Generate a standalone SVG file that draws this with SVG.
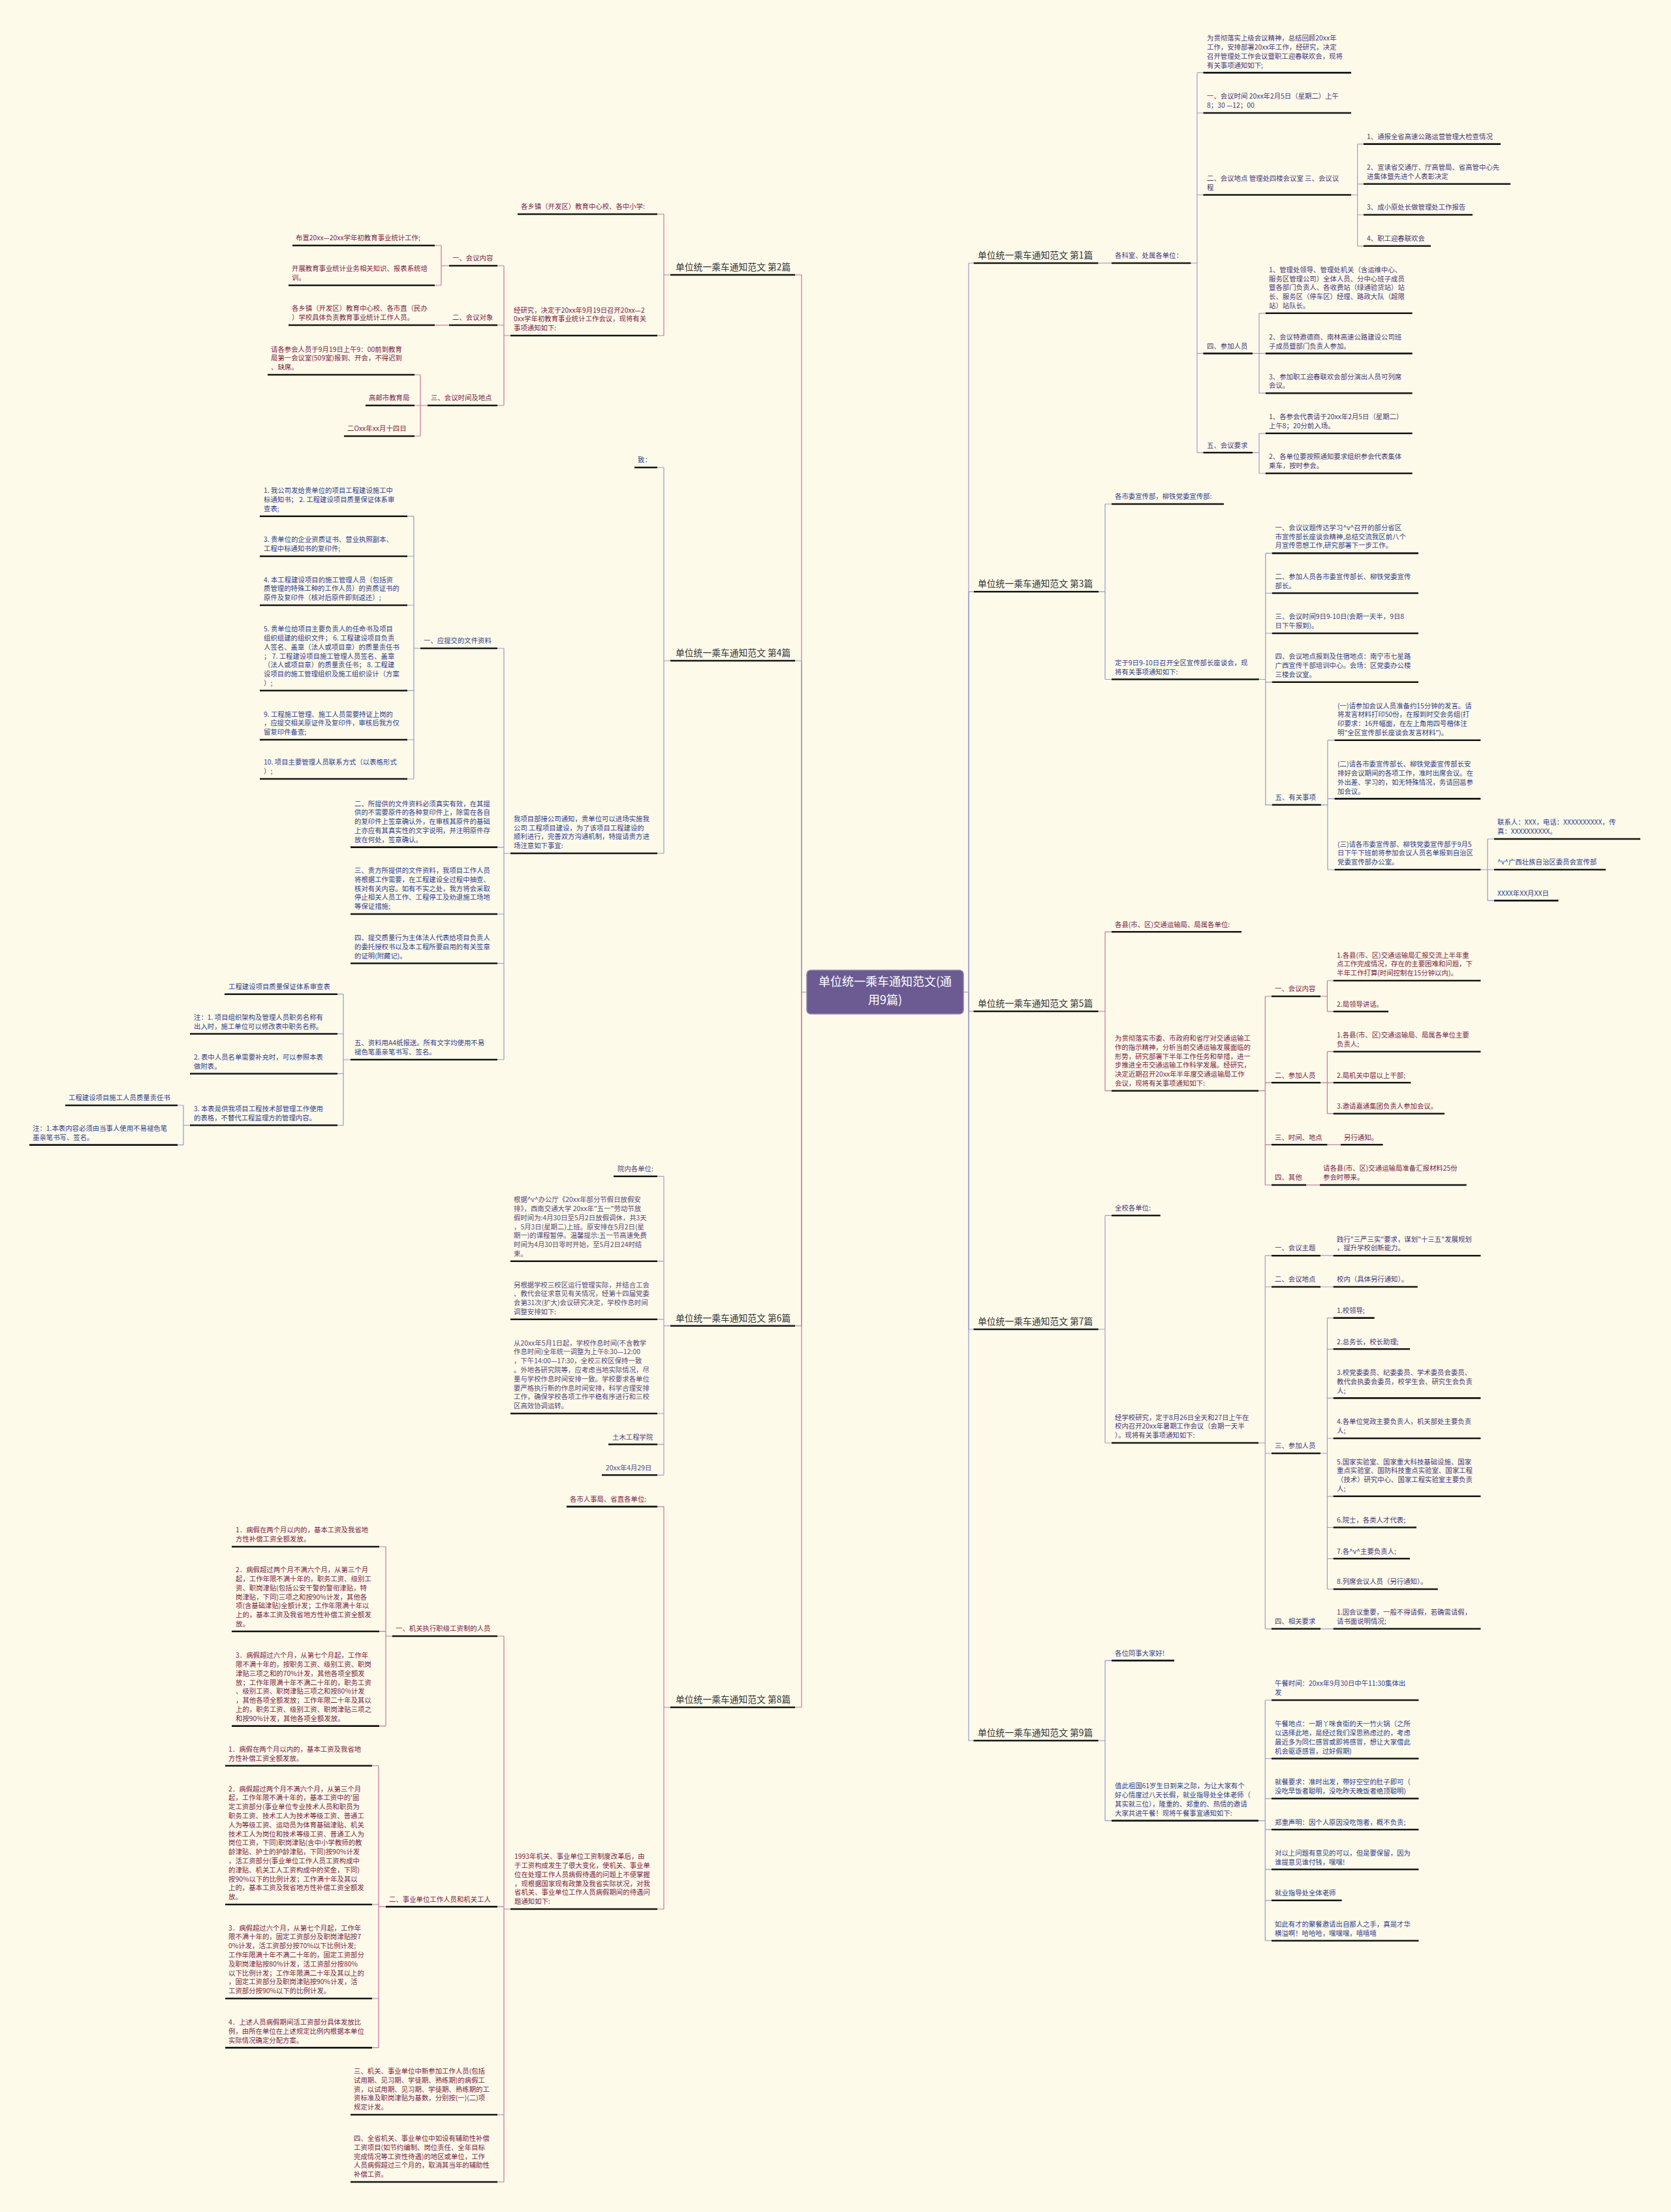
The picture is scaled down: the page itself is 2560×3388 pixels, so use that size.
<svg xmlns="http://www.w3.org/2000/svg" width="2560" height="3388" viewBox="0 0 2560 3388">
<style>
text{font-family:"Noto Sans CJK SC","Noto Sans",sans-serif;}
.t{font-size:10.4px;}
.tt{font-size:13.8px;fill:#333;}
.u{stroke:#161616;stroke-width:2.6;}
.m{fill:#7a2347;}
.b{fill:#2d3f8f;}
.p{fill:#55487f;}
.v{fill:#45387c;}
.lm{stroke:#c8759c;fill:none;stroke-width:1.2;}
.lb{stroke:#8d9bd0;fill:none;stroke-width:1.2;}
.lp{stroke:#a898c6;fill:none;stroke-width:1.2;}
</style>
<rect width="2560" height="3388" fill="#fefaea"/>
<g id="connectors">
<path class="lm" d="M1236,1519.5 H1228 V421 H1218"/>
<path class="lb" d="M1236,1519.5 H1228 V1012 H1218"/>
<path class="lp" d="M1236,1519.5 H1228 V2030.7 H1218"/>
<path class="lm" d="M1236,1519.5 H1228 V2615 H1218"/>
<path class="lp" d="M1476,1519.5 H1484 V403 H1491.6"/>
<path class="lb" d="M1476,1519.5 H1484 V906.3 H1492"/>
<path class="lm" d="M1476,1519.5 H1484 V1549 H1491.5"/>
<path class="lp" d="M1476,1519.5 H1484 V2036 H1491.5"/>
<path class="lb" d="M1476,1519.5 H1484 V2666 H1491.5"/>
<path class="lm" d="M1027,421 H1017 M1017,328 V514 M1017,328 H1007 M1017,514 H1007"/>
<path class="lm" d="M782,514 H772 M772,407 V621 M772,407 H762 M772,498 H762 M772,621 H762"/>
<path class="lm" d="M688,407 H676 M676,376 V437 M676,376 H666 M676,437 H666"/>
<path class="lm" d="M688,498 H666"/>
<path class="lm" d="M655,621 H644 M644,574 V668 M644,574 H635 M644,621 H635 M644,668 H635"/>
<path class="lb" d="M1027,1012 H1017 M1017,716 V1307 M1017,716 H1007 M1017,1307 H1007"/>
<path class="lb" d="M782,1307 H772 M772,993 V1623 M772,993 H762 M772,1297.6 H762 M772,1400 H762 M772,1475.5 H762 M772,1623 H762"/>
<path class="lb" d="M644,993 H634 M634,790.7 V1193 M634,790.7 H624 M634,852 H624 M634,927 H624 M634,1057.7 H624 M634,1133 H624 M634,1193 H624"/>
<path class="lb" d="M537,1623 H526 M526,1522.7 V1723.5 M526,1522.7 H517 M526,1583.5 H517 M526,1644.5 H517 M526,1723.5 H517"/>
<path class="lb" d="M291,1723.5 H281 M281,1693 V1753.6 M281,1693 H272 M281,1753.6 H272"/>
<path class="lp" d="M1027,2030.7 H1017 M1017,1801.7 V2259.3 M1017,1801.7 H1007 M1017,1931.7 H1007 M1017,2020.7 H1007 M1017,2165 H1007 M1017,2212.3 H1007 M1017,2259.3 H1007"/>
<path class="lm" d="M1027,2615 H1017 M1017,2307.6 V2924 M1017,2307.6 H1007 M1017,2924 H1007"/>
<path class="lm" d="M782,2924 H772 M772,2506 V3342 M772,2506 H762 M772,2920.4 H762 M772,3239 H762 M772,3342 H762"/>
<path class="lm" d="M601,2506 H591 M591,2369 V2643.6 M591,2369 H581 M591,2498.7 H581 M591,2643.6 H581"/>
<path class="lm" d="M591,2920.4 H580 M580,2704.5 V3136.4 M580,2704.5 H570 M580,2917 H570 M580,3061 H570 M580,3136.4 H570"/>
<path class="lp" d="M1682.4,403 H1703"/>
<path class="lp" d="M1824.4,403 H1834 M1834,111.4 V693.3 M1834,111.4 H1843.4 M1834,173 H1843.4 M1834,298.5 H1843.4 M1834,541.4 H1843.4 M1834,693.3 H1843.4"/>
<path class="lp" d="M2070,298.5 H2079.7 M2079.7,220.6 V376.8 M2079.7,220.6 H2089 M2079.7,281.8 H2089 M2079.7,329 H2089 M2079.7,376.8 H2089"/>
<path class="lp" d="M1919,541.4 H1929 M1929,479.8 V602.2 M1929,479.8 H1938.8 M1929,541.4 H1938.8 M1929,602.2 H1938.8"/>
<path class="lp" d="M1919,693.3 H1929 M1929,663.8 V725 M1929,663.8 H1938.8 M1929,725 H1938.8"/>
<path class="lb" d="M1683,906.3 H1693 M1693,772 V1040.5 M1693,772 H1703 M1693,1040.5 H1703"/>
<path class="lb" d="M1928.7,1040.5 H1938.8 M1938.8,847.4 V1232.8 M1938.8,847.4 H1948.8 M1938.8,908.5 H1948.8 M1938.8,970 H1948.8 M1938.8,1044.8 H1948.8 M1938.8,1232.8 H1948.8"/>
<path class="lb" d="M2023.8,1232.8 H2034 M2034,1133.7 V1332 M2034,1133.7 H2044.6 M2034,1223.4 H2044.6 M2034,1332 H2044.6"/>
<path class="lb" d="M2268.3,1332 H2279 M2279,1285 V1379.4 M2279,1285 H2289 M2279,1332 H2289 M2279,1379.4 H2289"/>
<path class="lm" d="M1682.7,1549 H1693 M1693,1427.3 V1670.7 M1693,1427.3 H1703 M1693,1670.7 H1703"/>
<path class="lm" d="M1928,1670.7 H1938.3 M1938.3,1526 V1815 M1938.3,1526 H1948 M1938.3,1658.3 H1948 M1938.3,1753.3 H1948 M1938.3,1815 H1948"/>
<path class="lm" d="M2023,1526 H2033.4 M2033.4,1502 V1549.3 M2033.4,1502 H2042.7 M2033.4,1549.3 H2042.7"/>
<path class="lm" d="M2023,1658.3 H2033.4 M2033.4,1610.7 V1705.7 M2033.4,1610.7 H2042.7 M2033.4,1658.3 H2042.7 M2033.4,1705.7 H2042.7"/>
<path class="lm" d="M2033.4,1753.3 H2054"/>
<path class="lm" d="M2001,1815 H2022"/>
<path class="lp" d="M1682.7,2036 H1693 M1693,1861.7 V2210 M1693,1861.7 H1703 M1693,2210 H1703"/>
<path class="lp" d="M1928,2210 H1938.3 M1938.3,1923.2 V2494.8 M1938.3,1923.2 H1948 M1938.3,1971 H1948 M1938.3,2226 H1948 M1938.3,2494.8 H1948"/>
<path class="lp" d="M2023,1923.2 H2042.7 M2023,1971 H2042.7 M2023,2494.8 H2042.7"/>
<path class="lp" d="M2023,2226 H2033.4 M2033.4,2018.6 V2434 M2033.4,2018.6 H2042.7 M2033.4,2066.3 H2042.7 M2033.4,2141.4 H2042.7 M2033.4,2203 H2042.7 M2033.4,2291.8 H2042.7 M2033.4,2339.5 H2042.7 M2033.4,2387.3 H2042.7 M2033.4,2434 H2042.7"/>
<path class="lb" d="M1682.7,2666 H1693 M1693,2543.4 V2788.6 M1693,2543.4 H1703 M1693,2788.6 H1703"/>
<path class="lb" d="M1928,2788.6 H1938.3 M1938.3,2604 V2972.5 M1938.3,2604 H1948 M1938.3,2693.5 H1948 M1938.3,2754.8 H1948 M1938.3,2802.3 H1948 M1938.3,2863.3 H1948 M1938.3,2910.8 H1948 M1938.3,2972.5 H1948"/>
</g>
<g id="center">
<rect x="1236" y="1486" width="240" height="67" rx="6" fill="#6b5b92" stroke="#8f82b3" stroke-width="1.5"/>
<text x="1356" y="1510" font-size="18" fill="#fff" text-anchor="middle">单位统一乘车通知范文(通</text>
<text x="1356" y="1538" font-size="18" fill="#fff" text-anchor="middle">用9篇)</text>
</g>
<!-- 第2篇 -->
<g id="t2"><text class="tt" x="1035" y="414">单位统一乘车通知范文 第2篇</text><line class="u" x1="1027" y1="421" x2="1218" y2="421"/></g>
<g id="n2a"><text class="t m" x="798" y="320.2">各乡镇（开发区）教育中心校、各中小学:</text><line class="u" x1="793" y1="328" x2="1007" y2="328"/></g>
<g id="n2b"><text class="t m"><tspan x="787" y="478.6">经研究，决定于20xx年9月19日召开20xx—2</tspan><tspan x="787" y="492.4">0xx学年初教育事业统计工作会议，现将有关</tspan><tspan x="787" y="506.2">事项通知如下:</tspan></text><line class="u" x1="782" y1="514" x2="1007" y2="514"/></g>
<g id="n2b1"><text class="t m" x="693" y="399.2">一、会议内容</text><line class="u" x1="688" y1="407" x2="762" y2="407"/></g>
<g id="n2b2"><text class="t m" x="693" y="490.2">二、会议对象</text><line class="u" x1="688" y1="498" x2="762" y2="498"/></g>
<g id="n2b3"><text class="t m" x="660" y="613.2">三、会议时间及地点</text><line class="u" x1="655" y1="621" x2="762" y2="621"/></g>
<g id="n2b1a"><text class="t m" x="453" y="368.2">布置20xx—20xx学年初教育事业统计工作;</text><line class="u" x1="448" y1="376" x2="666" y2="376"/></g>
<g id="n2b1b"><text class="t m"><tspan x="447" y="415.4">开展教育事业统计业务相关知识、报表系统培</tspan><tspan x="447" y="429.2">训。</tspan></text><line class="u" x1="442" y1="437" x2="666" y2="437"/></g>
<g id="n2b2a"><text class="t m"><tspan x="447" y="476.4">各乡镇（开发区）教育中心校、各市直（民办</tspan><tspan x="447" y="490.2">）学校具体负责教育事业统计工作人员。</tspan></text><line class="u" x1="442" y1="498" x2="666" y2="498"/></g>
<g id="n2b3a"><text class="t m"><tspan x="415" y="538.6">请各参会人员于9月19日上午9：00前到教育</tspan><tspan x="415" y="552.4">局第一会议室(509室)报到、开会，不得迟到</tspan><tspan x="415" y="566.2">、缺席。</tspan></text><line class="u" x1="410" y1="574" x2="635" y2="574"/></g>
<g id="n2b3b"><text class="t m" x="565" y="613.2">高邮市教育局</text><line class="u" x1="560" y1="621" x2="635" y2="621"/></g>
<g id="n2b3c"><text class="t m" x="532" y="660.2">二Oxx年xx月十四日</text><line class="u" x1="527" y1="668" x2="635" y2="668"/></g>
<!-- 第4篇 -->
<g id="t4"><text class="tt" x="1035" y="1005">单位统一乘车通知范文 第4篇</text><line class="u" x1="1027" y1="1012" x2="1218" y2="1012"/></g>
<g id="n4a"><text class="t b" x="977" y="708.2">致：</text><line class="u" x1="972" y1="716" x2="1007" y2="716"/></g>
<g id="n4b"><text class="t b"><tspan x="787" y="1257.8">我项目部接公司通知，贵单位可以进场实施我</tspan><tspan x="787" y="1271.6">公司 工程项目建设，为了该项目工程建设的</tspan><tspan x="787" y="1285.4">顺利进行，完善双方沟通机制，特提请贵方进</tspan><tspan x="787" y="1299.2">场注意如下事宜:</tspan></text><line class="u" x1="782" y1="1307" x2="1007" y2="1307"/></g>
<g id="n4b1"><text class="t b" x="649" y="985.2">一、应提交的文件资料</text><line class="u" x1="644" y1="993" x2="762" y2="993"/></g>
<g id="n4b2"><text class="t b"><tspan x="543" y="1234.6">二、所提供的文件资料必须真实有效，在其提</tspan><tspan x="543" y="1248.4">供的不需要原件的各种复印件上，除需在各自</tspan><tspan x="543" y="1262.2">的复印件上签章确认外，在审核其原件的基础</tspan><tspan x="543" y="1276">上亦应有其真实性的文字说明，并注明原件存</tspan><tspan x="543" y="1289.8">放在何处，签章确认。</tspan></text><line class="u" x1="537" y1="1297.6" x2="762" y2="1297.6"/></g>
<g id="n4b3"><text class="t b"><tspan x="543" y="1337">三、贵方所提供的文件资料，我项目工作人员</tspan><tspan x="543" y="1350.8">将根据工作需要，在工程建设全过程中抽查、</tspan><tspan x="543" y="1364.6">核对有关内容。如有不实之处，我方将会采取</tspan><tspan x="543" y="1378.4">停止相关人员工作、工程停工及劝退施工场地</tspan><tspan x="543" y="1392.2">等保证措施;</tspan></text><line class="u" x1="537" y1="1400" x2="762" y2="1400"/></g>
<g id="n4b4"><text class="t b"><tspan x="543" y="1440.1">四、提交质量行为主体法人代表给项目负责人</tspan><tspan x="543" y="1453.9">的委托授权书以及本工程所要启用的有关签章</tspan><tspan x="543" y="1467.7">的证明(附藏记)。</tspan></text><line class="u" x1="537" y1="1475.5" x2="762" y2="1475.5"/></g>
<g id="n4b5"><text class="t b"><tspan x="543" y="1601.4">五、资料用A4纸报送。所有文字均使用不易</tspan><tspan x="543" y="1615.2">褪色笔墨亲笔书写、签名。</tspan></text><line class="u" x1="537" y1="1623" x2="762" y2="1623"/></g>
<g id="n4i1"><text class="t b"><tspan x="404" y="755.3">1. 我公司发给贵单位的项目工程建设施工中</tspan><tspan x="404" y="769.1">标通知书； 2. 工程建设项目质量保证体系审</tspan><tspan x="404" y="782.9">查表;</tspan></text><line class="u" x1="398" y1="790.7" x2="624" y2="790.7"/></g>
<g id="n4i2"><text class="t b"><tspan x="404" y="830.4">3. 贵单位的企业资质证书、营业执照副本、</tspan><tspan x="404" y="844.2">工程中标通知书的复印件;</tspan></text><line class="u" x1="398" y1="852" x2="624" y2="852"/></g>
<g id="n4i3"><text class="t b"><tspan x="404" y="891.6">4. 本工程建设项目的施工管理人员（包括资</tspan><tspan x="404" y="905.4">质管理的特殊工种的工作人员）的资质证书的</tspan><tspan x="404" y="919.2">原件及复印件（核对后原件即刻返还）;</tspan></text><line class="u" x1="398" y1="927" x2="624" y2="927"/></g>
<g id="n4i4"><text class="t b"><tspan x="404" y="967.1">5. 贵单位给项目主要负责人的任命书及项目</tspan><tspan x="404" y="980.9">组织组建的组织文件； 6. 工程建设项目负责</tspan><tspan x="404" y="994.7">人签名、盖章（法人或项目章）的质量责任书</tspan><tspan x="404" y="1008.5">； 7. 工程建设项目施工管理人员签名、盖章</tspan><tspan x="404" y="1022.3">（法人或项目章）的质量责任书； 8. 工程建</tspan><tspan x="404" y="1036.1">设项目的施工管理组织及施工组织设计（方案</tspan><tspan x="404" y="1049.9">）;</tspan></text><line class="u" x1="398" y1="1057.7" x2="624" y2="1057.7"/></g>
<g id="n4i5"><text class="t b"><tspan x="404" y="1097.6">9. 工程施工管理、施工人员需要持证上岗的</tspan><tspan x="404" y="1111.4">，应提交相关原证件及复印件，审核后我方仅</tspan><tspan x="404" y="1125.2">留复印件备查;</tspan></text><line class="u" x1="398" y1="1133" x2="624" y2="1133"/></g>
<g id="n4i6"><text class="t b"><tspan x="404" y="1171.4">10. 项目主要管理人员联系方式（以表格形式</tspan><tspan x="404" y="1185.2">）;</tspan></text><line class="u" x1="398" y1="1193" x2="624" y2="1193"/></g>
<g id="n4b5a"><text class="t b" x="350" y="1514.9">工程建设项目质量保证体系审查表</text><line class="u" x1="344" y1="1522.7" x2="517" y2="1522.7"/></g>
<g id="n4b5b"><text class="t b"><tspan x="297" y="1561.9">注：1. 项目组织架构及管理人员职务名称有</tspan><tspan x="297" y="1575.7">出入时，施工单位可以修改表中职务名称。</tspan></text><line class="u" x1="291" y1="1583.5" x2="517" y2="1583.5"/></g>
<g id="n4b5c"><text class="t b"><tspan x="297" y="1622.9">2. 表中人员名单需要补充时，可以参照本表</tspan><tspan x="297" y="1636.7">做附表。</tspan></text><line class="u" x1="291" y1="1644.5" x2="517" y2="1644.5"/></g>
<g id="n4b5d"><text class="t b"><tspan x="297" y="1701.9">3. 本表是供我项目工程技术部管理工作使用</tspan><tspan x="297" y="1715.7">的表格，不替代工程监理方的管理内容。</tspan></text><line class="u" x1="291" y1="1723.5" x2="517" y2="1723.5"/></g>
<g id="n4b5d1"><text class="t b" x="105" y="1685.2">工程建设项目施工人员质量责任书</text><line class="u" x1="100" y1="1693" x2="272" y2="1693"/></g>
<g id="n4b5d2"><text class="t b"><tspan x="50" y="1732">注：1.本表内容必须由当事人使用不易褪色笔</tspan><tspan x="50" y="1745.8">墨亲笔书写、签名。</tspan></text><line class="u" x1="45" y1="1753.6" x2="272" y2="1753.6"/></g>
<!-- 第6篇 -->
<g id="t6"><text class="tt" x="1035" y="2023.7">单位统一乘车通知范文 第6篇</text><line class="u" x1="1027" y1="2030.7" x2="1218" y2="2030.7"/></g>
<g id="n6a"><text class="t p" x="946" y="1793.9">院内各单位:</text><line class="u" x1="940" y1="1801.7" x2="1007" y2="1801.7"/></g>
<g id="n6b"><text class="t p"><tspan x="787" y="1841.1">根据^v^办公厅《20xx年部分节假日放假安</tspan><tspan x="787" y="1854.9">排》，西南交通大学 20xx年"五一"劳动节放</tspan><tspan x="787" y="1868.7">假时间为:4月30日至5月2日放假调休，共3天</tspan><tspan x="787" y="1882.5">，5月3日(星期二)上班。原安排在5月2日(星</tspan><tspan x="787" y="1896.3">期一)的课程暂停。温馨提示:五一节高速免费</tspan><tspan x="787" y="1910.1">时间为4月30日零时开始，至5月2日24时结</tspan><tspan x="787" y="1923.9">束。</tspan></text><line class="u" x1="782" y1="1931.7" x2="1007" y2="1931.7"/></g>
<g id="n6c"><text class="t p"><tspan x="787" y="1971.5">另根据学校三校区运行管理实际，并结合工会</tspan><tspan x="787" y="1985.3">、教代会征求意见有关情况，经第十四届党委</tspan><tspan x="787" y="1999.1">会第31次(扩大)会议研究决定，学校作息时间</tspan><tspan x="787" y="2012.9">调整安排如下:</tspan></text><line class="u" x1="782" y1="2020.7" x2="1007" y2="2020.7"/></g>
<g id="n6d"><text class="t p"><tspan x="787" y="2060.6">从20xx年5月1日起，学校作息时间(不含教学</tspan><tspan x="787" y="2074.4">作息时间)全年统一调整为上午8:30—12:00</tspan><tspan x="787" y="2088.2">，下午14:00—17:30，全校三校区保持一致</tspan><tspan x="787" y="2102">。外地各研究院等，应考虑当地实际情况，尽</tspan><tspan x="787" y="2115.8">量与学校作息时间安排一致。学校要求各单位</tspan><tspan x="787" y="2129.6">要严格执行新的作息时间安排，科学合理安排</tspan><tspan x="787" y="2143.4">工作，确保学校各项工作平稳有序进行和三校</tspan><tspan x="787" y="2157.2">区高效协调运转。</tspan></text><line class="u" x1="782" y1="2165" x2="1007" y2="2165"/></g>
<g id="n6e"><text class="t p" x="938" y="2204.5">土木工程学院</text><line class="u" x1="932" y1="2212.3" x2="1007" y2="2212.3"/></g>
<g id="n6f"><text class="t p" x="928" y="2251.5">20xx年4月29日</text><line class="u" x1="922" y1="2259.3" x2="1007" y2="2259.3"/></g>
<!-- 第8篇 -->
<g id="t8"><text class="tt" x="1035" y="2608">单位统一乘车通知范文 第8篇</text><line class="u" x1="1027" y1="2615" x2="1218" y2="2615"/></g>
<g id="n8a"><text class="t m" x="873" y="2299.8">各市人事局、省直各单位:</text><line class="u" x1="868" y1="2307.6" x2="1007" y2="2307.6"/></g>
<g id="n8b"><text class="t m"><tspan x="788" y="2847.2">1993年机关、事业单位工资制度改革后，由</tspan><tspan x="788" y="2861">于工资构成发生了很大变化，使机关、事业单</tspan><tspan x="788" y="2874.8">位在处理工作人员病假待遇的问题上不便掌握</tspan><tspan x="788" y="2888.6">，现根据国家现有政策及我省实际状况，对我</tspan><tspan x="788" y="2902.4">省机关、事业单位工作人员病假期间的待遇问</tspan><tspan x="788" y="2916.2">题通知如下:</tspan></text><line class="u" x1="782" y1="2924" x2="1007" y2="2924"/></g>
<g id="n8b1"><text class="t m" x="606" y="2498.2">一、机关执行职级工资制的人员</text><line class="u" x1="601" y1="2506" x2="762" y2="2506"/></g>
<g id="n8b2"><text class="t m" x="596" y="2912.6">二、事业单位工作人员和机关工人</text><line class="u" x1="591" y1="2920.4" x2="762" y2="2920.4"/></g>
<g id="n8b3"><text class="t m"><tspan x="542" y="3176">三、机关、事业单位中新参加工作人员(包括</tspan><tspan x="542" y="3189.8">试用期、见习期、学徒期、熟练期)的病假工</tspan><tspan x="542" y="3203.6">资，以试用期、见习期、学徒期、熟练期的工</tspan><tspan x="542" y="3217.4">资标准及职岗津贴为基数，分别按(一)(二)项</tspan><tspan x="542" y="3231.2">规定计发。</tspan></text><line class="u" x1="537" y1="3239" x2="762" y2="3239"/></g>
<g id="n8b4"><text class="t m"><tspan x="542" y="3279">四、全省机关、事业单位中如设有辅助性补偿</tspan><tspan x="542" y="3292.8">工资项目(如节约编制、岗位责任、全年目标</tspan><tspan x="542" y="3306.6">完成情况等工资性待遇)的地区或单位，工作</tspan><tspan x="542" y="3320.4">人员病假超过三个月的，取消其当年的辅助性</tspan><tspan x="542" y="3334.2">补偿工资。</tspan></text><line class="u" x1="537" y1="3342" x2="762" y2="3342"/></g>
<g id="n8b1a"><text class="t m"><tspan x="361" y="2347.4">1．病假在两个月以内的，基本工资及我省地</tspan><tspan x="361" y="2361.2">方性补偿工资全额发放。</tspan></text><line class="u" x1="355" y1="2369" x2="581" y2="2369"/></g>
<g id="n8b1b"><text class="t m"><tspan x="361" y="2408.1">2．病假超过两个月不满六个月，从第三个月</tspan><tspan x="361" y="2421.9">起，工作年限不满十年的，职务工资、级别工</tspan><tspan x="361" y="2435.7">资、职岗津贴(包括公安干警的警衔津贴，特</tspan><tspan x="361" y="2449.5">岗津贴，下同)三项之和按90%计发，其他各</tspan><tspan x="361" y="2463.3">项(含基础津贴)全额计发；工作年限满十年以</tspan><tspan x="361" y="2477.1">上的，基本工资及我省地方性补偿工资全额发</tspan><tspan x="361" y="2490.9">放。</tspan></text><line class="u" x1="355" y1="2498.7" x2="581" y2="2498.7"/></g>
<g id="n8b1c"><text class="t m"><tspan x="361" y="2539.2">3．病假超过六个月，从第七个月起，工作年</tspan><tspan x="361" y="2553">限不满十年的，按职务工资、级别工资、职岗</tspan><tspan x="361" y="2566.8">津贴三项之和的70%计发，其他各项全额发</tspan><tspan x="361" y="2580.6">放；工作年限满十年不满二十年的，职务工资</tspan><tspan x="361" y="2594.4">、级别工资、职岗津贴三项之和按80%计发</tspan><tspan x="361" y="2608.2">，其他各项全额发放；工作年限二十年及其以</tspan><tspan x="361" y="2622">上的，职务工资、级别工资、职岗津贴三项之</tspan><tspan x="361" y="2635.8">和按90%计发，其他各项全额发放。</tspan></text><line class="u" x1="355" y1="2643.6" x2="581" y2="2643.6"/></g>
<g id="n8b2a"><text class="t m"><tspan x="350" y="2682.9">1．病假在两个月以内的，基本工资及我省地</tspan><tspan x="350" y="2696.7">方性补偿工资全额发放。</tspan></text><line class="u" x1="345" y1="2704.5" x2="570" y2="2704.5"/></g>
<g id="n8b2b"><text class="t m"><tspan x="350" y="2743.6">2．病假超过两个月不满六个月，从第三个月</tspan><tspan x="350" y="2757.4">起，工作年限不满十年的，基本工资中的'固</tspan><tspan x="350" y="2771.2">定工资部分(事业单位专业技术人员和职员为</tspan><tspan x="350" y="2785">职务工资、技术工人为技术等级工资、普通工</tspan><tspan x="350" y="2798.8">人为等级工资、运动员为体育基础津贴、机关</tspan><tspan x="350" y="2812.6">技术工人为岗位和技术等级工资、普通工人为</tspan><tspan x="350" y="2826.4">岗位工资，下同)职岗津贴(含中小学教师的教</tspan><tspan x="350" y="2840.2">龄津贴、护士的护龄津贴，下同)按90%计发</tspan><tspan x="350" y="2854">，活工资部分(事业单位工作人员工资构成中</tspan><tspan x="350" y="2867.8">的津贴、机关工人工资构成中的奖金，下同)</tspan><tspan x="350" y="2881.6">按90%以下的比例计发；工作满十年及其以</tspan><tspan x="350" y="2895.4">上的，基本工资及我省地方性补偿工资全额发</tspan><tspan x="350" y="2909.2">放。</tspan></text><line class="u" x1="345" y1="2917" x2="570" y2="2917"/></g>
<g id="n8b2c"><text class="t m"><tspan x="350" y="2956.6">3．病假超过六个月，从第七个月起，工作年</tspan><tspan x="350" y="2970.4">限不满十年的，固定工资部分及职岗津贴按7</tspan><tspan x="350" y="2984.2">0%计发，活工资部分按70%以下比例计发;</tspan><tspan x="350" y="2998">工作年限满十年不满二十年的，固定工资部分</tspan><tspan x="350" y="3011.8">及职岗津贴按80%计发，活工资部分按80%</tspan><tspan x="350" y="3025.6">以下比例计发；工作年限满二十年及其以上的</tspan><tspan x="350" y="3039.4">，固定工资部分及职岗津贴按90%计发，活</tspan><tspan x="350" y="3053.2">工资部分按90%以下的比例计发。</tspan></text><line class="u" x1="345" y1="3061" x2="570" y2="3061"/></g>
<g id="n8b2d"><text class="t m"><tspan x="350" y="3101">4．上述人员病假期间活工资部分具体发放比</tspan><tspan x="350" y="3114.8">例，由所在单位在上述规定比例内根据本单位</tspan><tspan x="350" y="3128.6">实际情况确定分配方案。</tspan></text><line class="u" x1="345" y1="3136.4" x2="570" y2="3136.4"/></g>
<!-- 第1篇 -->
<g id="t1"><text class="tt" x="1498" y="396">单位统一乘车通知范文 第1篇</text><line class="u" x1="1491.6" y1="403" x2="1682.4" y2="403"/></g>
<g id="n1"><text class="t v" x="1708" y="395.2">各科室、处属各单位：</text><line class="u" x1="1703" y1="403" x2="1824.4" y2="403"/></g>
<g id="n1a"><text class="t v"><tspan x="1849" y="62.2">为贯彻落实上级会议精神，总结回顾20xx年</tspan><tspan x="1849" y="76">工作，安排部署20xx年工作，经研究，决定</tspan><tspan x="1849" y="89.8">召开管理处工作会议暨职工迎春联欢会，现将</tspan><tspan x="1849" y="103.6">有关事项通知如下;</tspan></text><line class="u" x1="1843.4" y1="111.4" x2="2070" y2="111.4"/></g>
<g id="n1b"><text class="t v"><tspan x="1849" y="151.4">一、会议时间 20xx年2月5日（星期二）上午</tspan><tspan x="1849" y="165.2">8；30 —12；00</tspan></text><line class="u" x1="1843.4" y1="173" x2="2070" y2="173"/></g>
<g id="n1c"><text class="t v"><tspan x="1849" y="276.9">二、会议地点 管理处四楼会议室 三、会议议</tspan><tspan x="1849" y="290.7">程</tspan></text><line class="u" x1="1843.4" y1="298.5" x2="2070" y2="298.5"/></g>
<g id="n1d"><text class="t v" x="1849" y="533.6">四、参加人员</text><line class="u" x1="1843.4" y1="541.4" x2="1919" y2="541.4"/></g>
<g id="n1e"><text class="t v" x="1849" y="685.5">五、会议要求</text><line class="u" x1="1843.4" y1="693.3" x2="1919" y2="693.3"/></g>
<g id="n1c1"><text class="t v" x="2094" y="212.8">1、通报全省高速公路运营管理大检查情况</text><line class="u" x1="2089" y1="220.6" x2="2299" y2="220.6"/></g>
<g id="n1c2"><text class="t v"><tspan x="2094" y="260.2">2、宣读省交通厅、厅高管局、省高管中心先</tspan><tspan x="2094" y="274">进集体暨先进个人表彰决定</tspan></text><line class="u" x1="2089" y1="281.8" x2="2314" y2="281.8"/></g>
<g id="n1c3"><text class="t v" x="2094" y="321.2">3、成小原处长做管理处工作报告</text><line class="u" x1="2089" y1="329" x2="2256" y2="329"/></g>
<g id="n1c4"><text class="t v" x="2094" y="369">4、职工迎春联欢会</text><line class="u" x1="2089" y1="376.8" x2="2192" y2="376.8"/></g>
<g id="n1d1"><text class="t v"><tspan x="1944" y="416.8">1、管理处领导、管理处机关（含运维中心、</tspan><tspan x="1944" y="430.6">服务区管理公司）全体人员、分中心班子成员</tspan><tspan x="1944" y="444.4">暨各部门负责人、各收费站（绿通验货站）站</tspan><tspan x="1944" y="458.2">长、服务区（停车区）经理、路政大队（超限</tspan><tspan x="1944" y="472">站）站队长。</tspan></text><line class="u" x1="1938.8" y1="479.8" x2="2163.7" y2="479.8"/></g>
<g id="n1d2"><text class="t v"><tspan x="1944" y="519.8">2、会议特邀德商、南林高速公路建设公司班</tspan><tspan x="1944" y="533.6">子成员暨部门负责人参加。</tspan></text><line class="u" x1="1938.8" y1="541.4" x2="2163.7" y2="541.4"/></g>
<g id="n1d3"><text class="t v"><tspan x="1944" y="580.6">3、参加职工迎春联欢会部分演出人员可列席</tspan><tspan x="1944" y="594.4">会议。</tspan></text><line class="u" x1="1938.8" y1="602.2" x2="2163.7" y2="602.2"/></g>
<g id="n1e1"><text class="t v"><tspan x="1944" y="642.2">1、各参会代表请于20xx年2月5日（星期二）</tspan><tspan x="1944" y="656">上午8；20分前入场。</tspan></text><line class="u" x1="1938.8" y1="663.8" x2="2163.7" y2="663.8"/></g>
<g id="n1e2"><text class="t v"><tspan x="1944" y="703.4">2、各单位要按照通知要求组织参会代表集体</tspan><tspan x="1944" y="717.2">乘车，按时参会。</tspan></text><line class="u" x1="1938.8" y1="725" x2="2163.7" y2="725"/></g>
<!-- 第3篇 -->
<g id="t3"><text class="tt" x="1498" y="899.3">单位统一乘车通知范文 第3篇</text><line class="u" x1="1492" y1="906.3" x2="1683" y2="906.3"/></g>
<g id="n3a"><text class="t b" x="1708" y="764.2">各市委宣传部，柳铁党委宣传部:</text><line class="u" x1="1703" y1="772" x2="1875" y2="772"/></g>
<g id="n3b"><text class="t b"><tspan x="1708" y="1018.9">定于9日9-10日召开全区宣传部长座谈会，现</tspan><tspan x="1708" y="1032.7">将有关事项通知如下:</tspan></text><line class="u" x1="1703" y1="1040.5" x2="1928.7" y2="1040.5"/></g>
<g id="n3b1"><text class="t b"><tspan x="1953.5" y="811.8">一、会议议题传达学习^v^召开的部分省区</tspan><tspan x="1953.5" y="825.6">市宣传部长座谈会精神,总结交流我区前八个</tspan><tspan x="1953.5" y="839.4">月宣传思想工作,研究部署下一步工作。</tspan></text><line class="u" x1="1948.8" y1="847.4" x2="2173" y2="847.4"/></g>
<g id="n3b2"><text class="t b"><tspan x="1953.5" y="886.9">二、参加人员各市委宣传部长、柳铁党委宣传</tspan><tspan x="1953.5" y="900.7">部长。</tspan></text><line class="u" x1="1948.8" y1="908.5" x2="2173" y2="908.5"/></g>
<g id="n3b3"><text class="t b"><tspan x="1953.5" y="948.4">三、会议时间9日9-10日(会期一天半，9日8</tspan><tspan x="1953.5" y="962.2">日下午报到)。</tspan></text><line class="u" x1="1948.8" y1="970" x2="2173" y2="970"/></g>
<g id="n3b4"><text class="t b"><tspan x="1953.5" y="1009.4">四、会议地点报到及住宿地点：南宁市七星路</tspan><tspan x="1953.5" y="1023.2">广西宣传干部培训中心。会场：区党委办公楼</tspan><tspan x="1953.5" y="1037">三楼会议室。</tspan></text><line class="u" x1="1948.8" y1="1044.8" x2="2173" y2="1044.8"/></g>
<g id="n3b5"><text class="t b" x="1953.5" y="1225">五、有关事项</text><line class="u" x1="1948.8" y1="1232.8" x2="2023.8" y2="1232.8"/></g>
<g id="n3b5a"><text class="t b"><tspan x="2049" y="1084.5">(一)请参加会议人员准备约15分钟的发言。请</tspan><tspan x="2049" y="1098.3">将发言材料打印50份，在报到时交会务组(打</tspan><tspan x="2049" y="1112.1">印要求：16开幅面，在左上角用四号楷体注</tspan><tspan x="2049" y="1125.9">明"全区宣传部长座谈会发言材料")。</tspan></text><line class="u" x1="2044.6" y1="1133.7" x2="2268.3" y2="1133.7"/></g>
<g id="n3b5b"><text class="t b"><tspan x="2049" y="1174.2">(二)请各市委宣传部长、柳铁党委宣传部长安</tspan><tspan x="2049" y="1188">排好会议期间的各项工作，准时出席会议。在</tspan><tspan x="2049" y="1201.8">外出差、学习的，如无特殊情况，务请回邕参</tspan><tspan x="2049" y="1215.6">加会议。</tspan></text><line class="u" x1="2044.6" y1="1223.4" x2="2268.3" y2="1223.4"/></g>
<g id="n3b5c"><text class="t b"><tspan x="2049" y="1296.6">(三)请各市委宣传部、柳铁党委宣传部于9月5</tspan><tspan x="2049" y="1310.4">日下午下班前将参加会议人员名单报到自治区</tspan><tspan x="2049" y="1324.2">党委宣传部办公室。</tspan></text><line class="u" x1="2044.6" y1="1332" x2="2268.3" y2="1332"/></g>
<g id="n3c1"><text class="t b"><tspan x="2294" y="1263.4">联系人：XXX，电话：XXXXXXXXXX，传</tspan><tspan x="2294" y="1277.2">真：XXXXXXXXXX。</tspan></text><line class="u" x1="2289" y1="1285" x2="2513" y2="1285"/></g>
<g id="n3c2"><text class="t b" x="2294" y="1324.2">^v^广西壮族自治区委员会宣传部</text><line class="u" x1="2289" y1="1332" x2="2460" y2="1332"/></g>
<g id="n3c3"><text class="t b" x="2294" y="1371.6">XXXX年XX月XX日</text><line class="u" x1="2289" y1="1379.4" x2="2387.5" y2="1379.4"/></g>
<!-- 第5篇 -->
<g id="t5"><text class="tt" x="1498" y="1542">单位统一乘车通知范文 第5篇</text><line class="u" x1="1491.5" y1="1549" x2="1682.7" y2="1549"/></g>
<g id="n5a"><text class="t m" x="1708" y="1419.5">各县(市、区)交通运输局、局属各单位:</text><line class="u" x1="1703" y1="1427.3" x2="1902" y2="1427.3"/></g>
<g id="n5b"><text class="t m"><tspan x="1708" y="1593.9">为贯彻落实市委、市政府和省厅对交通运输工</tspan><tspan x="1708" y="1607.7">作的指示精神，分析当前交通运输发展面临的</tspan><tspan x="1708" y="1621.5">形势，研究部署下半年工作任务和举措，进一</tspan><tspan x="1708" y="1635.3">步推进全市交通运输工作科学发展。经研究，</tspan><tspan x="1708" y="1649.1">决定近期召开20xx年半年度交通运输局工作</tspan><tspan x="1708" y="1662.9">会议，现将有关事项通知如下:</tspan></text><line class="u" x1="1703" y1="1670.7" x2="1928" y2="1670.7"/></g>
<g id="n5b1"><text class="t m" x="1953" y="1518.2">一、会议内容</text><line class="u" x1="1948" y1="1526" x2="2023" y2="1526"/></g>
<g id="n5b2"><text class="t m" x="1953" y="1650.5">二、参加人员</text><line class="u" x1="1948" y1="1658.3" x2="2023" y2="1658.3"/></g>
<g id="n5b3"><text class="t m" x="1953" y="1745.5">三、时间、地点</text><line class="u" x1="1948" y1="1753.3" x2="2033.4" y2="1753.3"/></g>
<g id="n5b4"><text class="t m" x="1953" y="1807.2">四、其他</text><line class="u" x1="1948" y1="1815" x2="2001" y2="1815"/></g>
<g id="n5c1"><text class="t m"><tspan x="2048" y="1466.6">1.各县(市、区)交通运输局汇报交流上半年重</tspan><tspan x="2048" y="1480.4">点工作完成情况，存在的主要困难和问题，下</tspan><tspan x="2048" y="1494.2">半年工作打算(时间控制在15分钟以内)。</tspan></text><line class="u" x1="2042.7" y1="1502" x2="2268.4" y2="1502"/></g>
<g id="n5c2"><text class="t m" x="2048" y="1541.5">2.局领导讲话。</text><line class="u" x1="2042.7" y1="1549.3" x2="2127" y2="1549.3"/></g>
<g id="n5c3"><text class="t m"><tspan x="2048" y="1589.1">1.各县(市、区)交通运输局、局属各单位主要</tspan><tspan x="2048" y="1602.9">负责人;</tspan></text><line class="u" x1="2042.7" y1="1610.7" x2="2268.4" y2="1610.7"/></g>
<g id="n5c4"><text class="t m" x="2048" y="1650.5">2.局机关中层以上干部;</text><line class="u" x1="2042.7" y1="1658.3" x2="2161.5" y2="1658.3"/></g>
<g id="n5c5"><text class="t m" x="2048" y="1697.9">3.邀请嘉通集团负责人参加会议。</text><line class="u" x1="2042.7" y1="1705.7" x2="2213" y2="1705.7"/></g>
<g id="n5c6"><text class="t m" x="2059" y="1745.5">另行通知。</text><line class="u" x1="2054" y1="1753.3" x2="2118.6" y2="1753.3"/></g>
<g id="n5c7"><text class="t m"><tspan x="2027" y="1793.4">请各县(市、区)交通运输局准备汇报材料25份</tspan><tspan x="2027" y="1807.2">参会时带来。</tspan></text><line class="u" x1="2022" y1="1815" x2="2246.7" y2="1815"/></g>
<!-- 第7篇 -->
<g id="t7"><text class="tt" x="1498" y="2029">单位统一乘车通知范文 第7篇</text><line class="u" x1="1491.5" y1="2036" x2="1682.7" y2="2036"/></g>
<g id="n7a"><text class="t v" x="1708" y="1853.9">全校各单位:</text><line class="u" x1="1703" y1="1861.7" x2="1777.7" y2="1861.7"/></g>
<g id="n7b"><text class="t v"><tspan x="1708" y="2174.6">经学校研究，定于8月26日全天和27日上午在</tspan><tspan x="1708" y="2188.4">校内召开20xx年暑期工作会议（会期一天半</tspan><tspan x="1708" y="2202.2">）。现将有关事项通知如下:</tspan></text><line class="u" x1="1703" y1="2210" x2="1928" y2="2210"/></g>
<g id="n7b1"><text class="t v" x="1953" y="1915.4">一、会议主题</text><line class="u" x1="1948" y1="1923.2" x2="2023" y2="1923.2"/></g>
<g id="n7b2"><text class="t v" x="1953" y="1963.2">二、会议地点</text><line class="u" x1="1948" y1="1971" x2="2023" y2="1971"/></g>
<g id="n7b3"><text class="t v" x="1953" y="2218.2">三、参加人员</text><line class="u" x1="1948" y1="2226" x2="2023" y2="2226"/></g>
<g id="n7b4"><text class="t v" x="1953" y="2487">四、相关要求</text><line class="u" x1="1948" y1="2494.8" x2="2023" y2="2494.8"/></g>
<g id="n7c1"><text class="t v"><tspan x="2048" y="1901.6">践行"三严三实"要求，谋划"十三五"发展规划</tspan><tspan x="2048" y="1915.4">，提升学校创新能力。</tspan></text><line class="u" x1="2042.7" y1="1923.2" x2="2268.4" y2="1923.2"/></g>
<g id="n7c2"><text class="t v" x="2048" y="1963.2">校内（具体另行通知）。</text><line class="u" x1="2042.7" y1="1971" x2="2171.8" y2="1971"/></g>
<g id="n7d1"><text class="t v" x="2048" y="2010.8">1.校领导;</text><line class="u" x1="2042.7" y1="2018.6" x2="2105.7" y2="2018.6"/></g>
<g id="n7d2"><text class="t v" x="2048" y="2058.5">2.总务长，校长助理;</text><line class="u" x1="2042.7" y1="2066.3" x2="2160" y2="2066.3"/></g>
<g id="n7d3"><text class="t v"><tspan x="2048" y="2106">3.校党委委员、纪委委员、学术委员会委员、</tspan><tspan x="2048" y="2119.8">教代会执委会委员，校学生会、研究生会负责</tspan><tspan x="2048" y="2133.6">人;</tspan></text><line class="u" x1="2042.7" y1="2141.4" x2="2268.4" y2="2141.4"/></g>
<g id="n7d4"><text class="t v"><tspan x="2048" y="2181.4">4.各单位党政主要负责人，机关部处主要负责</tspan><tspan x="2048" y="2195.2">人;</tspan></text><line class="u" x1="2042.7" y1="2203" x2="2268.4" y2="2203"/></g>
<g id="n7d5"><text class="t v"><tspan x="2048" y="2242.6">5.国家实验室、国家重大科技基础设施、国家</tspan><tspan x="2048" y="2256.4">重点实验室、国防科技重点实验室、国家工程</tspan><tspan x="2048" y="2270.2">（技术）研究中心、国家工程实验室主要负责</tspan><tspan x="2048" y="2284">人;</tspan></text><line class="u" x1="2042.7" y1="2291.8" x2="2268.4" y2="2291.8"/></g>
<g id="n7d6"><text class="t v" x="2048" y="2331.7">6.院士，各类人才代表;</text><line class="u" x1="2042.7" y1="2339.5" x2="2170" y2="2339.5"/></g>
<g id="n7d7"><text class="t v" x="2048" y="2379.5">7.各^v^主要负责人;</text><line class="u" x1="2042.7" y1="2387.3" x2="2160" y2="2387.3"/></g>
<g id="n7d8"><text class="t v" x="2048" y="2426.2">8.列席会议人员（另行通知）。</text><line class="u" x1="2042.7" y1="2434" x2="2202.8" y2="2434"/></g>
<g id="n7e1"><text class="t v"><tspan x="2048" y="2473.2">1.因会议重要，一般不得请假，若确需请假，</tspan><tspan x="2048" y="2487">请书面说明情况;</tspan></text><line class="u" x1="2042.7" y1="2494.8" x2="2268.4" y2="2494.8"/></g>
<!-- 第9篇 -->
<g id="t9"><text class="tt" x="1498" y="2659">单位统一乘车通知范文 第9篇</text><line class="u" x1="1491.5" y1="2666" x2="1682.7" y2="2666"/></g>
<g id="n9a"><text class="t b" x="1708" y="2535.6">各位同事大家好!</text><line class="u" x1="1703" y1="2543.4" x2="1799" y2="2543.4"/></g>
<g id="n9b"><text class="t b"><tspan x="1708" y="2739.4">值此祖国61岁生日到来之际，为让大家有个</tspan><tspan x="1708" y="2753.2">好心情度过八天长假，就业指导处全体老师（</tspan><tspan x="1708" y="2767">其实就三位），隆重的、郑重的、热情的邀请</tspan><tspan x="1708" y="2780.8">大家共进午餐！现将午餐事宜通知如下:</tspan></text><line class="u" x1="1703" y1="2788.6" x2="1928" y2="2788.6"/></g>
<g id="n9c1"><text class="t b"><tspan x="1953" y="2582.4">午餐时间：20xx年9月30日中午11:30集体出</tspan><tspan x="1953" y="2596.2">发</tspan></text><line class="u" x1="1948" y1="2604" x2="2173.4" y2="2604"/></g>
<g id="n9c2"><text class="t b"><tspan x="1953" y="2644.3">午餐地点：一期丫咪食街的天一竹火锅（之所</tspan><tspan x="1953" y="2658.1">以选择此地，是经过我们深思熟虑过的，考虑</tspan><tspan x="1953" y="2671.9">最近多为同仁感冒或即将感冒，想让大家借此</tspan><tspan x="1953" y="2685.7">机会驱逐感冒，过好假期)</tspan></text><line class="u" x1="1948" y1="2693.5" x2="2173.4" y2="2693.5"/></g>
<g id="n9c3"><text class="t b"><tspan x="1953" y="2733.2">就餐要求：准时出发，带好空空的肚子即可（</tspan><tspan x="1953" y="2747">没吃早饭者聪明，没吃昨天晚饭者绝顶聪明)</tspan></text><line class="u" x1="1948" y1="2754.8" x2="2173.4" y2="2754.8"/></g>
<g id="n9c4"><text class="t b" x="1953" y="2794.5">郑重声明：因个人原因没吃饱者，概不负责;</text><line class="u" x1="1948" y1="2802.3" x2="2173.4" y2="2802.3"/></g>
<g id="n9c5"><text class="t b"><tspan x="1953" y="2841.7">对以上问题有意见的可以，但是要保留，因为</tspan><tspan x="1953" y="2855.5">谁提意见谁付钱，嘿嘿!</tspan></text><line class="u" x1="1948" y1="2863.3" x2="2173.4" y2="2863.3"/></g>
<g id="n9c6"><text class="t b" x="1953" y="2903">就业指导处全体老师</text><line class="u" x1="1948" y1="2910.8" x2="2055.6" y2="2910.8"/></g>
<g id="n9c7"><text class="t b"><tspan x="1953" y="2950.9">如此有才的聚餐邀请出自鄙人之手，真是才华</tspan><tspan x="1953" y="2964.7">横溢啊！哈哈哈，嘿嘿嘿，嘻嘻嘻</tspan></text><line class="u" x1="1948" y1="2972.5" x2="2173.4" y2="2972.5"/></g>
</svg>
